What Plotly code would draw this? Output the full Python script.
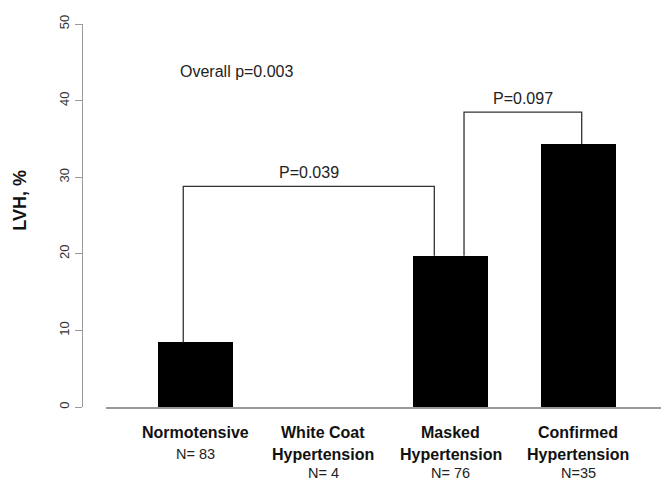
import plotly.graph_objects as go

# ---- data ----
categories = ["Normotensive", "White Coat Hypertension", "Masked Hypertension", "Confirmed Hypertension"]
label_lines = [["Normotensive"], ["White Coat", "Hypertension"], ["Masked", "Hypertension"], ["Confirmed", "Hypertension"]]
n_labels = ["N= 83", "N= 4", "N= 76", "N=35"]
lvh_pct = [8.43, 0.0, 19.74, 34.29]
y_ticks = [0, 10, 20, 30, 40, 50]
comparisons = [(0, 2), (2, 3)]
p_labels = ["P=0.039", "P=0.097"]
bracket_heights = [28.8, 38.5]
overall_label = "Overall p=0.003"

# ---- layout constants ----
W, H = 661, 482
FONT = "Liberation Sans, Arial, sans-serif"
x_pos = list(range(len(categories)))
bracket_offsets = [(-0.098, -0.129), (0.104, 0.027)]
plot_left_px = 106
yaxis_px = 81.7
x_range = [-0.704, 3.649]

fig = go.Figure()
fig.add_trace(go.Bar(
    x=x_pos, y=lvh_pct, width=0.59,
    marker=dict(color="black", line=dict(width=0)),
    showlegend=False, hoverinfo="skip",
))

# brackets
for (a, b), h, (oa, ob), lab in zip(comparisons, bracket_heights, bracket_offsets, p_labels):
    xa, xb = a + oa, b + ob
    fig.add_trace(go.Scatter(
        x=[xa, xa, xb, xb], y=[lvh_pct[a], h, h, lvh_pct[b]],
        mode="lines", line=dict(color="#333", width=1.3),
        showlegend=False, hoverinfo="skip",
    ))
    fig.add_annotation(x=(xa + xb) / 2, y=h, text=lab, showarrow=False,
                       xanchor="center", yanchor="bottom", yshift=3,
                       font=dict(family=FONT, size=16, color="#222"))

fig.add_annotation(x=0.32, y=43.8, text=overall_label, showarrow=False,
                   xanchor="center", yanchor="middle",
                   font=dict(family=FONT, size=16, color="#222"))

# category labels
for xi, lines, n in zip(x_pos, label_lines, n_labels):
    for k, ln in enumerate(lines):
        fig.add_annotation(x=xi, y=0, yref="y", text=f"<b>{ln}</b>", showarrow=False,
                           xanchor="center", yanchor="middle", yshift=-(431.7 - 406.7) - 22.6 * k,
                           borderpad=0,
                           font=dict(family=FONT, size=16, color="#111"))
    ny = -(454.0 - 406.7) if len(lines) == 1 else -(473.0 - 406.7)
    fig.add_annotation(x=xi, y=0, yref="y", text=n, showarrow=False,
                       xanchor="center", yanchor="middle", yshift=ny, borderpad=0,
                       font=dict(family=FONT, size=14.5, color="#222"))

# y title
fig.add_annotation(xref="paper", x=20.5 / W, yref="y", y=27, text="<b>LVH, %</b>",
                   textangle=-90, showarrow=False, xanchor="center", yanchor="middle",
                   font=dict(family=FONT, size=18, color="#111"))

fig.update_layout(
    width=W, height=H,
    margin=dict(l=0, r=0, t=24, b=75),
    paper_bgcolor="white", plot_bgcolor="white",
    xaxis=dict(domain=[plot_left_px / W, 1], range=x_range, showticklabels=False,
               ticks="", showgrid=False, zeroline=False,
               showline=True, linecolor="#999", linewidth=1.5),
    yaxis=dict(range=[0, 50], anchor="free", position=yaxis_px / W,
               tickvals=y_ticks, ticks="outside", ticklen=7, tickcolor="#999", tickwidth=1.3,
               showline=True, linecolor="#999", linewidth=1.3,
               showgrid=False, zeroline=False, tickangle=-90,
               tickfont=dict(family=FONT, size=13, color="#333")),
    bargap=0,
)

fig.write_html("out.html")
